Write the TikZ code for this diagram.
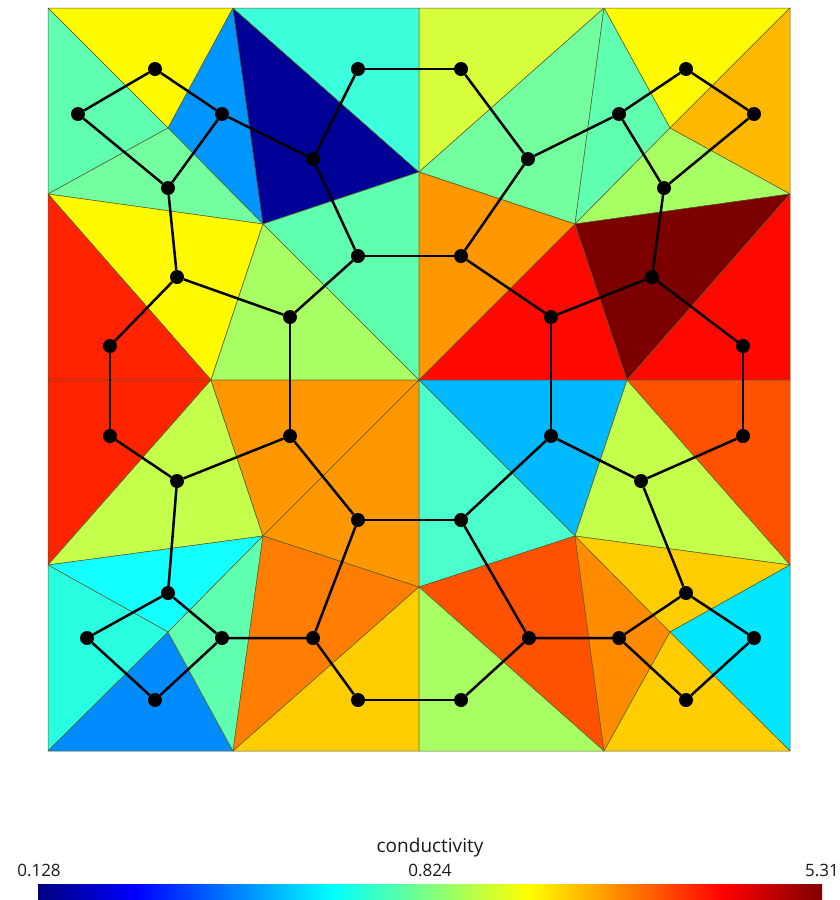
\documentclass[tikz,border=0pt]{standalone}
\usepackage{fontspec}
\setmainfont{Open Sans}

\definecolor{meshline}{RGB}{85,90,40}
\definecolor{labelgray}{RGB}{25,25,25}
\definecolor{navy}{RGB}{0,0,150}
\definecolor{azure}{RGB}{0,150,255}
\definecolor{blueB}{RGB}{0,140,255}
\definecolor{skyB}{RGB}{0,185,255}
\definecolor{cyanB}{RGB}{0,230,255}
\definecolor{cyanL}{RGB}{20,255,255}
\definecolor{turq}{RGB}{60,255,220}
\definecolor{turqB}{RGB}{40,255,225}
\definecolor{aquaB}{RGB}{75,255,205}
\definecolor{aqua}{RGB}{95,255,175}
\definecolor{mint}{RGB}{115,255,160}
\definecolor{lime}{RGB}{168,255,100}
\definecolor{limey}{RGB}{195,255,75}
\definecolor{chart}{RGB}{215,255,60}
\definecolor{yel}{RGB}{255,250,0}
\definecolor{gold}{RGB}{255,205,0}
\definecolor{amber}{RGB}{255,185,0}
\definecolor{orng}{RGB}{255,152,0}
\definecolor{orngD}{RGB}{255,140,0}
\definecolor{orngR}{RGB}{255,125,0}
\definecolor{vermil}{RGB}{255,82,0}
\definecolor{scarlet}{RGB}{255,35,0}
\definecolor{hot}{RGB}{255,8,0}
\definecolor{deep}{RGB}{125,0,0}
% jet colour map for the bar
\definecolor{jet0}{RGB}{0,0,128}
\definecolor{jet1}{RGB}{0,0,255}
\definecolor{jet2}{RGB}{0,255,255}
\definecolor{jet3}{RGB}{255,255,0}
\definecolor{jet4}{RGB}{255,0,0}
\definecolor{jet5}{RGB}{128,0,0}
\pgfdeclarehorizontalshading{jet}{100bp}{color(0bp)=(jet0); color(25bp)=(jet0);
  color(31.25bp)=(jet1); color(43.75bp)=(jet2); color(56.25bp)=(jet3);
  color(68.75bp)=(jet4); color(75bp)=(jet5); color(100bp)=(jet5)}

\begin{document}
\begin{tikzpicture}[
    x=1pt, y=-1pt,
    cell/.style={draw=meshline, line width=0.5pt, line join=round},
    dot/.style={circle, fill=black, inner sep=0pt, minimum size=14pt},
    link/.style={line width=2.5pt},
    tick/.style={font=\fontsize{17}{20}\selectfont, text=labelgray, anchor=base, inner sep=0pt}
  ]
  \useasboundingbox (0,0) rectangle (839,900);

  % mesh vertices
  \coordinate (v00) at (48,8);
  \coordinate (v10) at (233,8);
  \coordinate (v20) at (419,8);
  \coordinate (v30) at (604,8);
  \coordinate (v40) at (790,8);
  \coordinate (v01) at (48,194);
  \coordinate (v41) at (790,194);
  \coordinate (v02) at (48,380);
  \coordinate (v22) at (419,380);
  \coordinate (v42) at (790,380);
  \coordinate (v03) at (48,565);
  \coordinate (v43) at (790,565);
  \coordinate (v04) at (48,751);
  \coordinate (v14) at (233,751);
  \coordinate (v24) at (419,751);
  \coordinate (v34) at (604,751);
  \coordinate (v44) at (790,751);
  \coordinate (mt) at (419,172);
  \coordinate (mb) at (419,587);
  \coordinate (ml) at (211,380);
  \coordinate (mr) at (627,380);
  \coordinate (i1) at (168,128);
  \coordinate (i2) at (263,224);
  \coordinate (i3) at (670,128);
  \coordinate (i4) at (575,224);
  \coordinate (i5) at (263,536);
  \coordinate (i6) at (168,632);
  \coordinate (i7) at (575,536);
  \coordinate (i8) at (670,632);

  % top left
  \filldraw[cell, fill=yel] (v00) -- (v10) -- (i1) -- cycle;
  \filldraw[cell, fill=aqua] (v00) -- (i1) -- (v01) -- cycle;
  \filldraw[cell, fill=azure] (v10) -- (i1) -- (i2) -- cycle;
  \filldraw[cell, fill=navy] (v10) -- (i2) -- (mt) -- cycle;
  \filldraw[cell, fill=turq] (v10) -- (v20) -- (mt) -- cycle;
  \filldraw[cell, fill=mint] (v01) -- (i1) -- (i2) -- cycle;
  \filldraw[cell, fill=yel] (v01) -- (i2) -- (ml) -- cycle;
  \filldraw[cell, fill=scarlet] (v01) -- (ml) -- (v02) -- cycle;
  \filldraw[cell, fill=aqua] (i2) -- (mt) -- (v22) -- cycle;
  \filldraw[cell, fill=lime] (i2) -- (v22) -- (ml) -- cycle;
  % top right
  \filldraw[cell, fill=chart] (v20) -- (v30) -- (mt) -- cycle;
  \filldraw[cell, fill=yel] (v30) -- (v40) -- (i3) -- cycle;
  \filldraw[cell, fill=amber] (v40) -- (i3) -- (v41) -- cycle;
  \filldraw[cell, fill=mint] (v30) -- (mt) -- (i4) -- cycle;
  \filldraw[cell, fill=aqua] (v30) -- (i4) -- (i3) -- cycle;
  \filldraw[cell, fill=lime] (i3) -- (v41) -- (i4) -- cycle;
  \filldraw[cell, fill=orng] (mt) -- (i4) -- (v22) -- cycle;
  \filldraw[cell, fill=hot] (i4) -- (v22) -- (mr) -- cycle;
  \filldraw[cell, fill=deep] (i4) -- (v41) -- (mr) -- cycle;
  \filldraw[cell, fill=hot] (v41) -- (v42) -- (mr) -- cycle;
  % bottom left
  \filldraw[cell, fill=scarlet] (v02) -- (ml) -- (v03) -- cycle;
  \filldraw[cell, fill=limey] (ml) -- (i5) -- (v03) -- cycle;
  \filldraw[cell, fill=orng] (ml) -- (v22) -- (i5) -- cycle;
  \filldraw[cell, fill=orng] (v22) -- (i5) -- (mb) -- cycle;
  \filldraw[cell, fill=cyanL] (v03) -- (i5) -- (i6) -- cycle;
  \filldraw[cell, fill=turqB] (v03) -- (i6) -- (v04) -- cycle;
  \filldraw[cell, fill=blueB] (v04) -- (i6) -- (v14) -- cycle;
  \filldraw[cell, fill=aqua] (i6) -- (i5) -- (v14) -- cycle;
  \filldraw[cell, fill=orngR] (i5) -- (mb) -- (v14) -- cycle;
  \filldraw[cell, fill=gold] (mb) -- (v14) -- (v24) -- cycle;
  % bottom right
  \filldraw[cell, fill=skyB] (v22) -- (mr) -- (i7) -- cycle;
  \filldraw[cell, fill=aquaB] (v22) -- (i7) -- (mb) -- cycle;
  \filldraw[cell, fill=vermil] (mr) -- (v42) -- (v43) -- cycle;
  \filldraw[cell, fill=limey] (mr) -- (v43) -- (i7) -- cycle;
  \filldraw[cell, fill=vermil] (mb) -- (i7) -- (v34) -- cycle;
  \filldraw[cell, fill=lime] (mb) -- (v34) -- (v24) -- cycle;
  \filldraw[cell, fill=orngD] (i7) -- (i8) -- (v34) -- cycle;
  \filldraw[cell, fill=gold] (i7) -- (v43) -- (i8) -- cycle;
  \filldraw[cell, fill=cyanB] (v43) -- (i8) -- (v44) -- cycle;
  \filldraw[cell, fill=gold] (i8) -- (v34) -- (v44) -- cycle;

  % graph nodes
  \node[dot] (a1) at (155,69) {};
  \node[dot] (a2) at (78,114) {};
  \node[dot] (a3) at (222,114) {};
  \node[dot] (a4) at (168,188) {};
  \node[dot] (a5) at (313,159) {};
  \node[dot] (a6) at (358,69) {};
  \node[dot] (a7) at (358,256) {};
  \node[dot] (a8) at (177,277) {};
  \node[dot] (a9) at (290,317) {};
  \node[dot] (a10) at (110,346) {};
  \node[dot] (b1) at (461,69) {};
  \node[dot] (b2) at (528,159) {};
  \node[dot] (b3) at (619,114) {};
  \node[dot] (b4) at (686,69) {};
  \node[dot] (b5) at (754,114) {};
  \node[dot] (b6) at (664,188) {};
  \node[dot] (b7) at (461,256) {};
  \node[dot] (b8) at (652,277) {};
  \node[dot] (b9) at (551,317) {};
  \node[dot] (b10) at (743,346) {};
  \node[dot] (c1) at (110,436) {};
  \node[dot] (c2) at (290,436) {};
  \node[dot] (c3) at (177,481) {};
  \node[dot] (c4) at (358,520) {};
  \node[dot] (c5) at (168,593) {};
  \node[dot] (c6) at (87,638) {};
  \node[dot] (c7) at (222,638) {};
  \node[dot] (c8) at (313,638) {};
  \node[dot] (c9) at (155,700) {};
  \node[dot] (c10) at (358,700) {};
  \node[dot] (d1) at (551,436) {};
  \node[dot] (d2) at (743,436) {};
  \node[dot] (d3) at (641,481) {};
  \node[dot] (d4) at (461,520) {};
  \node[dot] (d5) at (686,593) {};
  \node[dot] (d6) at (619,638) {};
  \node[dot] (d7) at (529,638) {};
  \node[dot] (d8) at (754,638) {};
  \node[dot] (d9) at (686,700) {};
  \node[dot] (d10) at (461,700) {};

  % graph edges
  \draw[link] (a1) -- (a2) (a1) -- (a3) (a2) -- (a4) (a3) -- (a4) (a3) -- (a5)
    (a5) -- (a6) (a5) -- (a7) (a4) -- (a8) (a8) -- (a10) (a8) -- (a9) (a7) -- (a9);
  \draw[link] (b1) -- (b2) (b2) -- (b3) (b2) -- (b7) (b3) -- (b4) (b4) -- (b5)
    (b5) -- (b6) (b3) -- (b6) (b6) -- (b8) (b8) -- (b9) (b8) -- (b10) (b7) -- (b9);
  \draw[link] (c1) -- (c3) (c2) -- (c3) (c2) -- (c4) (c3) -- (c5) (c5) -- (c6)
    (c5) -- (c7) (c6) -- (c9) (c7) -- (c9) (c7) -- (c8) (c4) -- (c8) (c8) -- (c10);
  \draw[link] (d1) -- (d4) (d1) -- (d3) (d2) -- (d3) (d3) -- (d5) (d5) -- (d6)
    (d5) -- (d8) (d8) -- (d9) (d6) -- (d9) (d6) -- (d7) (d4) -- (d7) (d7) -- (d10);
  \draw[link] (a6) -- (b1) (a7) -- (b7) (a10) -- (c1) (a9) -- (c2)
    (b9) -- (d1) (b10) -- (d2) (c4) -- (d4) (c10) -- (d10);

  % colour bar
  \shade[shading=jet] (38,884) rectangle (822,900);
  \node[tick, font=\fontsize{19}{22}\selectfont] (title) at (430,852) {conductivity};
  \node[tick] (lo) at (39,876) {0.128};
  \node[tick] (mid) at (430,876) {0.824};
  \node[tick] (hi) at (822,876) {5.31};
\end{tikzpicture}
\end{document}
